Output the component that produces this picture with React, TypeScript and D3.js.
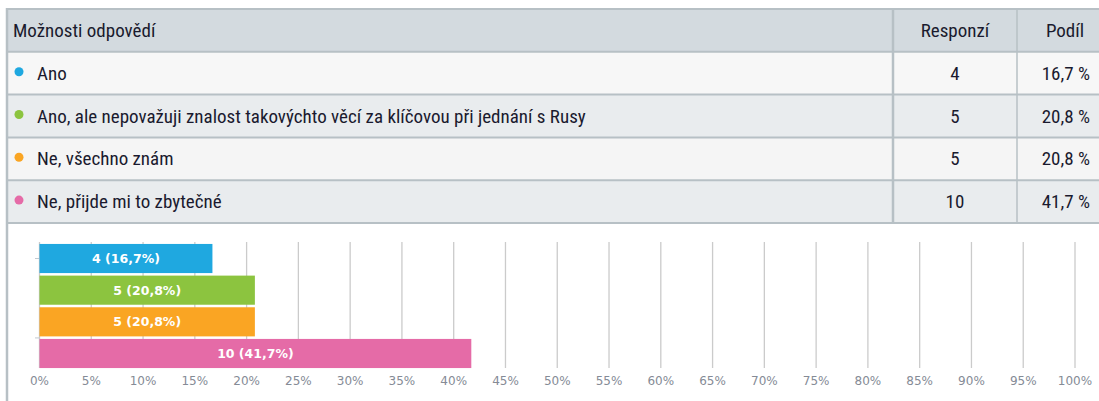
import * as d3 from "d3";

const answers = [
  "Ano",
  "Ano, ale nepovažuji znalost takovýchto věcí za klíčovou při jednání s Rusy",
  "Ne, všechno znám",
  "Ne, přijde mi to zbytečné",
];
const counts = [4, 5, 5, 10];
const shares = [16.7, 20.8, 20.8, 41.7];
const colors = ["#1fa8e0", "#8cc43f", "#faa523", "#e56ba7"];
const headers = ["Možnosti odpovědí", "Responzí", "Podíl"];
const ticks = d3.range(0, 101, 5);

const W = 1099;
const H = 401;
const tableFont = "'Roboto Condensed', Roboto, sans-serif";
const chartFont = "'DejaVu Sans', Verdana, sans-serif";
const border = "#b7c0c5";

const fmt = (v: number) => v.toFixed(1).replace(".", ",");

export default function App() {
  // table rows
  const rowY = d3
    .scaleBand<number>()
    .domain(d3.range(answers.length + 1))
    .range([9, 223]);
  const rowH = rowY.bandwidth();
  const rowBg = ["#f7f7f7", "#e9ecee", "#f5f5f5", "#e9ecee"];
  const col1 = 893;
  const col2 = 1017;

  // bar chart
  const x = d3.scaleLinear().domain([0, 100]).range([39.5, 1075]);
  const y = d3
    .scaleBand<string>()
    .domain(answers)
    .range([243, 369])
    .paddingInner(0.08)
    .paddingOuter(0.03);
  const gridTop = 242;
  const gridBottom = 368;

  return (
    <svg
      width={W}
      height={H}
      style={{ position: "absolute", left: 0, top: 0, background: "#fff" }}
    >
      {/* header */}
      <rect x={7} y={rowY(0)} width={W} height={rowH} fill="#d3dadf" />
      {answers.map((a, i) => (
        <rect key={a} x={7} y={rowY(i + 1)} width={W} height={rowH} fill={rowBg[i]} />
      ))}
      {/* horizontal borders */}
      {d3.range(answers.length + 2).map((i) => {
        const yy = i <= answers.length ? rowY(i)! : 223;
        return (
          <line key={i} x1={7} x2={W} y1={yy} y2={yy} stroke={border} strokeWidth={2} />
        );
      })}
      <line x1={col1} x2={col1} y1={9} y2={223} stroke={border} strokeWidth={2.5} />
      <line x1={col2} x2={col2} y1={9} y2={223} stroke={border} strokeWidth={1.5} />
      <line x1={7} x2={7} y1={8} y2={H} stroke={border} strokeWidth={2.5} />

      <g fontFamily={tableFont} fontSize={19} fill="#1a1a2e">
        <text x={13} y={rowY(0)! + rowH / 2} dy="0.35em">{headers[0]}</text>
        <text x={(col1 + col2) / 2} y={rowY(0)! + rowH / 2} dy="0.35em" textAnchor="middle">
          {headers[1]}
        </text>
        <text x={1065} y={rowY(0)! + rowH / 2} dy="0.35em" textAnchor="middle">
          {headers[2]}
        </text>
        {answers.map((a, i) => {
          const cy = rowY(i + 1)! + rowH / 2;
          return (
            <g key={a}>
              <circle cx={19} cy={cy - 1.5} r={4.5} fill={colors[i]} />
              <text x={37} y={cy} dy="0.35em">{a}</text>
              <text x={(col1 + col2) / 2} y={cy} dy="0.35em" textAnchor="middle">
                {counts[i]}
              </text>
              <text x={1090} y={cy} dy="0.35em" textAnchor="end">
                {fmt(shares[i])} %
              </text>
            </g>
          );
        })}
      </g>

      {/* grid */}
      {ticks.map((t) => (
        <line
          key={t}
          x1={x(t)}
          x2={x(t)}
          y1={gridTop}
          y2={gridBottom}
          stroke="#cbcbcb"
          strokeWidth={1.3}
        />
      ))}
      {/* left axis ticks */}
      {[y(answers[0])! + y.bandwidth() / 2, y(answers[3])! - 1].map((ty, i) => (
        <line key={i} x1={35} x2={39} y1={ty} y2={ty} stroke="#c0c8d0" strokeWidth={1} />
      ))}

      {/* bars */}
      {answers.map((a, i) => (
        <g key={a}>
          <rect
            x={x(0)}
            y={y(a)}
            width={x(shares[i]) - x(0)}
            height={y.bandwidth()}
            fill={colors[i]}
          />
          <text
            x={(x(0) + x(shares[i])) / 2}
            y={y(a)! + y.bandwidth() / 2}
            dy="0.36em"
            textAnchor="middle"
            fontFamily={chartFont}
            fontSize={12.5}
            fontWeight="bold"
            fill="#fff"
          >
            {`${counts[i]} (${fmt(shares[i])}%)`}
          </text>
        </g>
      ))}

      {/* x axis labels */}
      <g fontFamily={chartFont} fontSize={12} fill="#858b96">
        {ticks.map((t) => (
          <text key={t} x={x(t)} y={381} dy="0.35em" textAnchor="middle">
            {`${t}%`}
          </text>
        ))}
      </g>
    </svg>
  );
}
